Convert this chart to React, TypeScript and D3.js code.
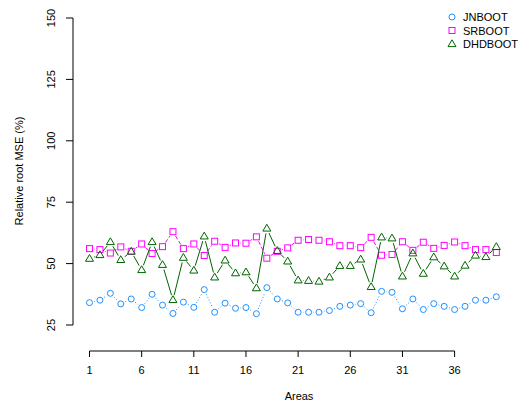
import * as d3 from 'd3';
import React, { useEffect, useRef } from 'react';

const areas = d3.range(1, 41);
const jnboot = [34.1, 35.1, 37.9, 33.6, 35.6, 32.1, 37.5, 33.1, 29.7, 34.3, 32.2, 39.4, 30.2, 33.9, 31.8, 32.1, 29.6, 40.2, 35.6, 34.0,
    30.2, 30.2, 30.2, 30.9, 32.6, 33.1, 33.7, 30.0, 38.7, 38.3, 31.6, 35.6, 31.3, 33.7, 32.6, 31.3, 32.6, 35.1, 35.1, 36.5];
const srboot = [56.1, 55.7, 54.3, 56.8, 55.0, 58.0, 54.1, 56.9, 63.0, 56.1, 58.0, 53.3, 59.1, 56.6, 58.4, 58.3, 60.9, 52.2, 55.0, 56.4,
    59.5, 59.8, 59.5, 58.9, 57.3, 57.3, 56.5, 60.7, 53.4, 53.7, 58.9, 55.4, 58.7, 56.2, 57.4, 58.8, 57.3, 55.7, 55.7, 54.5];
const dhdboot = [52.0, 53.5, 58.8, 51.5, 54.9, 47.4, 58.8, 49.5, 35.2, 52.4, 47.2, 61.1, 44.4, 51.3, 46.1, 46.5, 40.0, 64.3, 55.2, 50.9,
    43.2, 43.0, 42.7, 44.4, 49.1, 49.1, 51.7, 40.5, 60.7, 60.3, 44.8, 54.2, 45.9, 52.6, 48.9, 44.8, 49.2, 53.3, 52.7, 56.8];
const xTicks = [1, 6, 11, 16, 21, 26, 31, 36];
const yTicks = [25, 50, 75, 100, 125, 150];

const series = [
    { name: 'JNBOOT', values: jnboot, color: '#1E90FF', shape: 'circle', dash: '1,2' },
    { name: 'SRBOOT', values: srboot, color: '#FF00FF', shape: 'square', dash: '4,2' },
    { name: 'DHDBOOT', values: dhdboot, color: '#006400', shape: 'triangle', dash: null },
];

const App: React.FC = () => {
    const svgRef = useRef<SVGSVGElement>(null);

    useEffect(() => {
        if (!svgRef.current) return;
        d3.select(svgRef.current).selectAll('*').remove();
        const svg = d3.select(svgRef.current);
        const font = 'Liberation Sans, Arial, sans-serif';

        const x = d3.scaleLinear().domain([1, 36]).range([89.5, 454.6]);
        const y = d3.scaleLinear().domain([25, 150]).range([325, 18]);

        // y axis
        svg.append('line').attr('x1', 73).attr('x2', 73).attr('y1', y(25)).attr('y2', y(150)).attr('stroke', '#000');
        yTicks.forEach(t => {
            svg.append('line').attr('x1', 66).attr('x2', 73).attr('y1', y(t)).attr('y2', y(t)).attr('stroke', '#000');
            svg.append('text').attr('transform', `translate(55,${y(t)}) rotate(-90)`)
                .attr('text-anchor', 'middle').attr('font-size', 11).attr('font-family', font).text(t);
        });
        // x axis
        svg.append('line').attr('x1', x(1)).attr('x2', x(36)).attr('y1', 351).attr('y2', 351).attr('stroke', '#000');
        xTicks.forEach(t => {
            svg.append('line').attr('x1', x(t)).attr('x2', x(t)).attr('y1', 351).attr('y2', 357).attr('stroke', '#000');
            svg.append('text').attr('x', x(t)).attr('y', 374).attr('text-anchor', 'middle')
                .attr('font-size', 11).attr('font-family', font).text(t);
        });
        svg.append('text').attr('x', 299).attr('y', 400).attr('text-anchor', 'middle')
            .attr('font-size', 11).attr('font-family', font).text('Areas');
        svg.append('text').attr('transform', `translate(23,171) rotate(-90)`).attr('text-anchor', 'middle')
            .attr('font-size', 11).attr('font-family', font).text('Relative root MSE (%)');

        const drawShape = (g: any, shape: string, cx: number, cy: number, color: string) => {
            if (shape === 'circle') {
                g.append('circle').attr('cx', cx).attr('cy', cy).attr('r', 3).attr('fill', 'none').attr('stroke', color);
            } else if (shape === 'square') {
                g.append('rect').attr('x', cx - 3).attr('y', cy - 3).attr('width', 6).attr('height', 6)
                    .attr('fill', 'none').attr('stroke', color);
            } else {
                g.append('path').attr('d', `M${cx},${cy - 4.2}L${cx + 4},${cy + 2.6}L${cx - 4},${cy + 2.6}Z`)
                    .attr('fill', 'none').attr('stroke', color);
            }
        };

        const gap = 5;
        series.forEach(s => {
            const g = svg.append('g');
            s.values.forEach((v, i) => {
                if (i === 0) return;
                const x0 = x(areas[i - 1]), y0 = y(s.values[i - 1]), x1 = x(areas[i]), y1 = y(v);
                const len = Math.hypot(x1 - x0, y1 - y0);
                if (len <= 2 * gap) return;
                const ux = (x1 - x0) / len, uy = (y1 - y0) / len;
                const l = g.append('line')
                    .attr('x1', x0 + ux * gap).attr('y1', y0 + uy * gap)
                    .attr('x2', x1 - ux * gap).attr('y2', y1 - uy * gap)
                    .attr('stroke', s.color).attr('stroke-width', 1);
                if (s.dash) l.attr('stroke-dasharray', s.dash);
            });
            s.values.forEach((v, i) => drawShape(g, s.shape, x(areas[i]), y(v), s.color));
        });

        // legend
        series.forEach((s, i) => {
            const ly = 17 + i * 13.5;
            drawShape(svg, s.shape, 452, ly, s.color);
            svg.append('text').attr('x', 463).attr('y', ly + 4).attr('font-size', 11)
                .attr('font-family', font).text(s.name);
        });
    }, []);

    return <svg ref={svgRef} width={529} height={402} style={{ position: 'absolute', left: 0, top: 0 }} />;
};

export default App;
